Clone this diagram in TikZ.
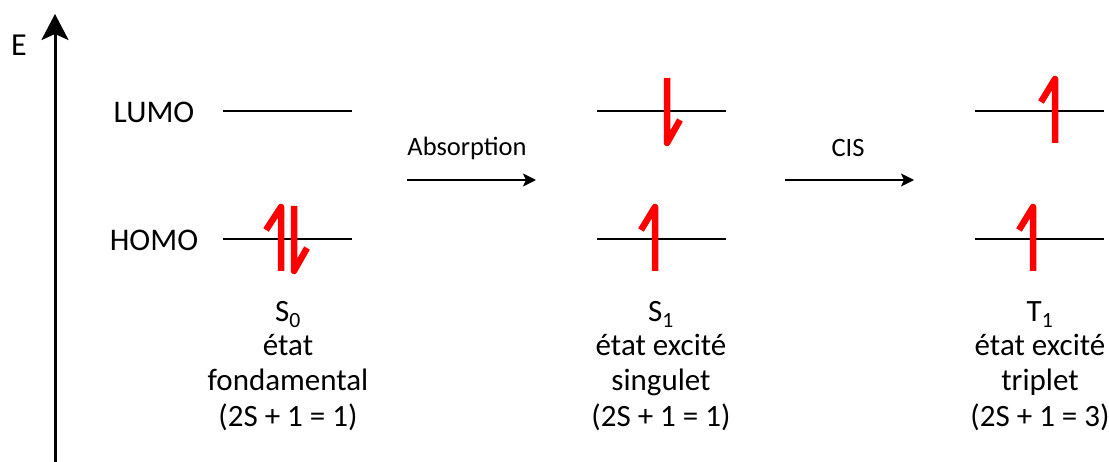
\documentclass[tikz,border=0pt]{standalone}
\usepackage{fontspec}
\setmainfont{Carlito}
\usetikzlibrary{arrows.meta}
\begin{document}
\begin{tikzpicture}[x=1pt,y=-1pt,
  level/.style={line width=2pt},
  spin/.style={red,line width=6.5pt,line cap=butt,line join=round},
  proc/.style={line width=2pt,-{Stealth[length=13pt,width=13pt,inset=3pt]}},
  lab/.style={font=\fontsize{31.5}{36}\selectfont,inner sep=0pt},
  proclab/.style={font=\fontsize{26.5}{30}\selectfont,inner sep=0pt},
  axislab/.style={font=\fontsize{32}{36}\selectfont,inner sep=0pt},
  big/.style={font=\fontsize{31}{36}\selectfont,inner sep=0pt,anchor=base}]
\useasboundingbox (0,0) rectangle (1109,462);
% energy axis
\coordinate (axb) at (55,462);
\coordinate (axt) at (55,14);
\draw[line width=3pt,-{Stealth[length=26pt,width=27pt,inset=6pt]}] (axb) -- (axt);
\node[axislab] (E) at (19,45) {E};
% labels
\node[lab] (lumo) at (154,112) {LUMO};
\node[lab] (homo) at (154,240) {HOMO};
% levels
\foreach \n/\x in {a/223,b/597,c/975}{
  \coordinate (\n L1) at (\x,111); \coordinate (\n L2) at (\x+129,111);
  \coordinate (\n H1) at (\x,239); \coordinate (\n H2) at (\x+129,239);
  \draw[level] (\n L1) -- (\n L2);
  \draw[level] (\n H1) -- (\n H2);
}
% process arrows
\coordinate (p1) at (407,180); \coordinate (p2) at (536,180);
\coordinate (q1) at (785,180); \coordinate (q2) at (914,180);
\draw[proc] (p1) -- (p2);
\draw[proc] (q1) -- (q2);
\node[proclab] (abs) at (467,148) {Absorption};
\node[proclab] (cis) at (848,148) {CIS};
% electrons
\draw[spin] (281,271) -- (281,207) -- (266,230);
\draw[spin] (294,206) -- (294,271) -- (307,248);
\draw[spin] (667,78) -- (667,143) -- (680,120);
\draw[spin] (655,271) -- (655,207) -- (641,230);
\draw[spin] (1055,143) -- (1055,79) -- (1041,102);
\draw[spin] (1033,271) -- (1033,207) -- (1019,230);
% state texts
\node[big] (s0) at (288,322) {S\textsubscript{0}};
\node[big] (s0a) at (288,356) {état};
\node[big] (s0b) at (288,391) {fondamental};
\node[big] (s0c) at (288,426) {(2S + 1 = 1)};
\node[big] (s1) at (661,322) {S\textsubscript{1}};
\node[big] (s1a) at (661,356) {état excité};
\node[big] (s1b) at (661,391) {singulet};
\node[big] (s1c) at (661,426) {(2S + 1 = 1)};
\node[big] (t1) at (1040,322) {T\textsubscript{1}};
\node[big] (t1a) at (1040,356) {état excité};
\node[big] (t1b) at (1040,391) {triplet};
\node[big] (t1c) at (1040,426) {(2S + 1 = 3)};
\end{tikzpicture}
\end{document}
